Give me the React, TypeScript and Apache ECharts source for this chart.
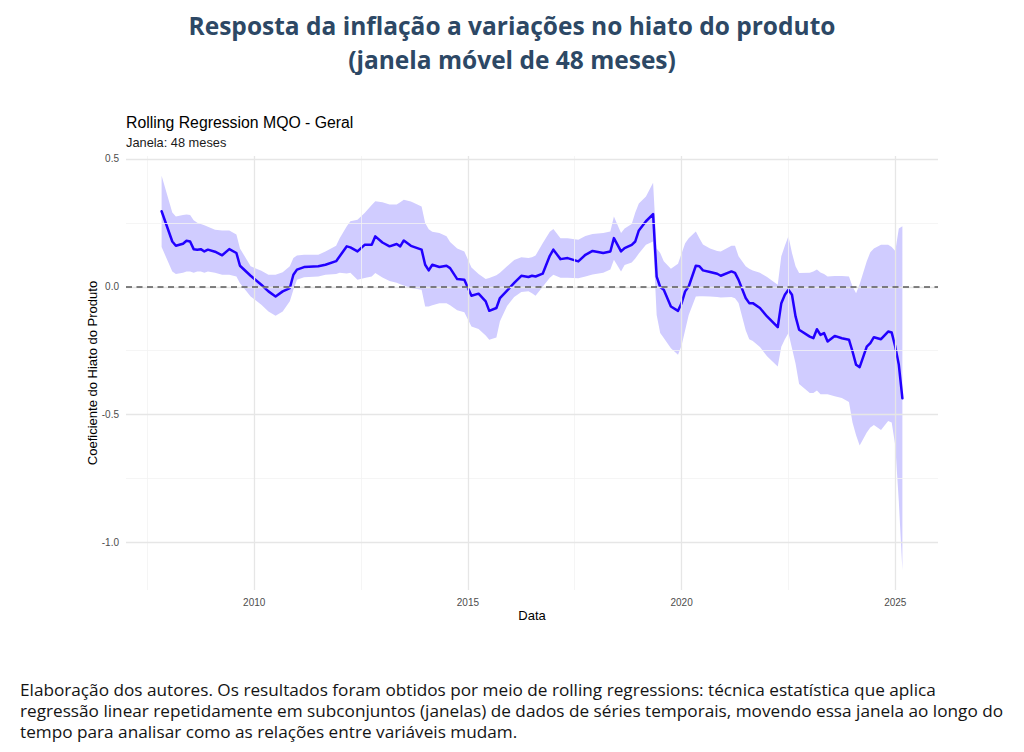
import React, { useEffect, useRef } from "react";
import * as echarts from "echarts";

// ---- Data ----
const dates = [
  "2007-11", "2008-02", "2008-03", "2008-05", "2008-06", "2008-07", "2008-08", "2008-09", "2008-10", "2008-11", "2008-12",
  "2009-02", "2009-04", "2009-06", "2009-08", "2009-09", "2009-12",
  "2010-03", "2010-05", "2010-07", "2010-09", "2010-11", "2010-12",
  "2011-01", "2011-03", "2011-07", "2011-09", "2011-12",
  "2012-01", "2012-03", "2012-04", "2012-06", "2012-08", "2012-10", "2012-11",
  "2013-01", "2013-03", "2013-05", "2013-06", "2013-07", "2013-09", "2013-12",
  "2014-01", "2014-02", "2014-03", "2014-05", "2014-07", "2014-08", "2014-10", "2014-12",
  "2015-02", "2015-04", "2015-06", "2015-07", "2015-09", "2015-10", "2015-12",
  "2016-02", "2016-04", "2016-06", "2016-07", "2016-08", "2016-10", "2016-12",
  "2017-01", "2017-03", "2017-05", "2017-08", "2017-10", "2017-12",
  "2018-03", "2018-05", "2018-06", "2018-08", "2018-09", "2018-11", "2018-12",
  "2019-01", "2019-03", "2019-05", "2019-06", "2019-07", "2019-08", "2019-10", "2019-12",
  "2020-01", "2020-02", "2020-03", "2020-05", "2020-06", "2020-07", "2020-09", "2020-11", "2020-12",
  "2021-03", "2021-04", "2021-05", "2021-07", "2021-08", "2021-09", "2021-11",
  "2022-01", "2022-04", "2022-05", "2022-06", "2022-07", "2022-08", "2022-09", "2022-10",
  "2023-01", "2023-02", "2023-03", "2023-04", "2023-05", "2023-06", "2023-08", "2023-10", "2023-12",
  "2024-01", "2024-02", "2024-03", "2024-05", "2024-06", "2024-07", "2024-09", "2024-11", "2024-12",
  "2025-01", "2025-02", "2025-03",
];

const coef = [
  0.295, 0.177, 0.16, 0.168, 0.18, 0.177, 0.147, 0.145, 0.147, 0.138, 0.145,
  0.137, 0.123, 0.147, 0.132, 0.082, 0.043,
  0.008, -0.018, -0.038, -0.018, -0.005, 0.047,
  0.067, 0.077, 0.08, 0.086, 0.1,
  0.119, 0.158, 0.154, 0.138, 0.164, 0.164, 0.197,
  0.173, 0.158, 0.167, 0.158, 0.181, 0.16, 0.145,
  0.086, 0.064, 0.086, 0.077, 0.082, 0.073, 0.03, 0.027,
  -0.035, -0.027, -0.057, -0.094, -0.083, -0.044, -0.015,
  0.015, 0.043, 0.038, 0.043, 0.04, 0.051, 0.121,
  0.145, 0.108, 0.112, 0.099, 0.125, 0.14,
  0.132, 0.138, 0.19, 0.138, 0.151, 0.164, 0.177,
  0.22, 0.256, 0.284, 0.04, -0.001, -0.012, -0.077, -0.094,
  -0.064, -0.018, 0.001, 0.082, 0.08, 0.064, 0.058, 0.051, 0.043,
  0.06, 0.054, 0.027, -0.044, -0.064, -0.064, -0.083,
  -0.116, -0.158, -0.064, -0.031, -0.012, -0.031, -0.116, -0.168,
  -0.195, -0.201, -0.166, -0.188, -0.181, -0.214, -0.192, -0.201, -0.207,
  -0.253, -0.305, -0.314, -0.234, -0.22, -0.197, -0.205, -0.175, -0.179,
  -0.234, -0.305, -0.436,
];

const lower = [
  0.155, 0.06, 0.05, 0.055, 0.06, 0.06, 0.055, 0.06, 0.06, 0.055, 0.06,
  0.055, 0.047, 0.047, 0.04, 0.014, -0.038,
  -0.07, -0.097, -0.113, -0.097, -0.057, -0.012,
  0.027, 0.037, 0.04, 0.047, 0.05,
  0.055, 0.052, 0.055, 0.027, 0.034, 0.04, 0.054,
  0.036, 0.023, 0.016, 0.01, 0.005, -0.005, -0.012,
  -0.077, -0.077, -0.072, -0.064, -0.064, -0.072, -0.092, -0.1,
  -0.155, -0.165, -0.19, -0.207, -0.198, -0.135, -0.075,
  -0.04, -0.02, -0.018, -0.025, -0.035, 0.0, 0.035,
  0.047, 0.035, 0.035, 0.033, 0.04, 0.048,
  0.055, 0.067, 0.106, 0.06, 0.085, 0.095, 0.11,
  0.13, 0.164, 0.177, -0.11, -0.181, -0.2, -0.24, -0.266,
  -0.23, -0.17, -0.11, -0.038, -0.037, -0.037, -0.038, -0.04, -0.042,
  -0.04, -0.045, -0.063, -0.17, -0.205, -0.212, -0.235,
  -0.272, -0.312, -0.234, -0.205, -0.181, -0.24, -0.3, -0.38,
  -0.415, -0.415, -0.405, -0.42, -0.42, -0.42, -0.428, -0.435, -0.45,
  -0.53, -0.58, -0.62, -0.57, -0.55, -0.54, -0.56, -0.525, -0.53,
  -0.62, -0.84, -1.108,
];

const upper = [
  0.434, 0.29, 0.275, 0.28, 0.282, 0.28, 0.26, 0.25, 0.245, 0.24, 0.235,
  0.223, 0.22, 0.22, 0.204, 0.15, 0.08,
  0.063, 0.047, 0.047, 0.057, 0.08, 0.112,
  0.122, 0.125, 0.125, 0.138, 0.16,
  0.19, 0.236, 0.256, 0.262, 0.288, 0.32, 0.334,
  0.33, 0.321, 0.321, 0.33, 0.34, 0.333, 0.314,
  0.249, 0.225, 0.215, 0.21, 0.197, 0.175, 0.15, 0.138,
  0.075, 0.05, 0.03, 0.034, 0.045, 0.055, 0.08,
  0.105, 0.115, 0.112, 0.115, 0.122, 0.17, 0.215,
  0.226, 0.19, 0.19, 0.184, 0.198, 0.206,
  0.21, 0.216, 0.275, 0.21, 0.228, 0.245, 0.29,
  0.325, 0.353, 0.406, 0.15, 0.132, 0.1, 0.07, 0.09,
  0.13, 0.17, 0.19, 0.216, 0.19, 0.165, 0.15, 0.14, 0.138,
  0.16, 0.16, 0.119, 0.08, 0.07, 0.064, 0.055,
  0.038, 0.008, 0.119, 0.16, 0.197, 0.132, 0.08, 0.054,
  0.055, 0.06, 0.067, 0.056, 0.05, 0.04, 0.042, 0.042, 0.04,
  0.001, -0.025, 0.01, 0.1, 0.135, 0.15, 0.164, 0.164, 0.155,
  0.14, 0.228, 0.236,
];

const xMajorTicks = [2010, 2015, 2020, 2025];
const xMinorTicks = [2007.5, 2012.5, 2017.5, 2022.5];
const yMajorTicks = [-1.0, -0.5, 0.0, 0.5];
const yMinorTicks = [-0.75, -0.25, 0.25];

const pageTitle1 = "Resposta da inflação a variações no hiato do produto";
const pageTitle2 = "(janela móvel de 48 meses)";
const chartTitle = "Rolling Regression MQO - Geral";
const chartSubtitle = "Janela: 48 meses";
const xName = "Data";
const yName = "Coeficiente do Hiato do Produto";
const footerLines = [
  "Elaboração dos autores. Os resultados foram obtidos por meio de rolling regressions: técnica estatística que aplica",
  "regressão linear repetidamente em subconjuntos (janelas) de dados de séries temporais, movendo essa janela ao longo do",
  "tempo para analisar como as relações entre variáveis mudam.",
];

function toYear(d: string): number {
  const [y, m] = d.split("-").map(Number);
  return y + (m - 1) / 12;
}

const SANS = "'Liberation Sans', Arial, sans-serif";

function text(x: number, y: number, str: string, opts: any = {}) {
  const align = opts.align || "left";
  return {
    type: "text",
    x,
    y,
    rotation: opts.rotation || 0,
    silent: true,
    style: {
      text: str,
      fill: opts.color || "#000000",
      fontSize: opts.fontSize || 12,
      fontFamily: opts.fontFamily || SANS,
      fontWeight: opts.fontWeight || "normal",
      align,
      textAlign: align,
      verticalAlign: "middle",
      textVerticalAlign: "middle",
    },
  };
}

export default function App() {
  const ref = useRef<HTMLDivElement>(null);

  useEffect(() => {
    if (!ref.current) return;
    const chart = echarts.init(ref.current, undefined, { renderer: "svg" });
    const xs = dates.map(toYear);
    const coefData = xs.map((x, i) => [x, coef[i]]);
    const bandData = xs.map((x, i) => [x, lower[i], upper[i]]);

    const gridLines = [
      ...xMinorTicks.map((v) => ({ xAxis: v, lineStyle: { color: "#f2f2f2", width: 0.8, type: "solid" } })),
      ...yMinorTicks.map((v) => ({ yAxis: v, lineStyle: { color: "#f2f2f2", width: 0.8, type: "solid" } })),
      ...xMajorTicks.map((v) => ({ xAxis: v, lineStyle: { color: "#e6e6e6", width: 1.3, type: "solid" } })),
      ...yMajorTicks.map((v) => ({ yAxis: v, lineStyle: { color: "#e6e6e6", width: 1.3, type: "solid" } })),
    ];

    const option: any = {
      animation: false,
      backgroundColor: "#ffffff",
      grid: { left: 126, top: 156, width: 812, height: 434, containLabel: false },
      xAxis: {
        type: "value",
        min: 2007,
        max: 2026,
        axisLine: { show: false },
        axisTick: { show: false },
        splitLine: { show: false },
        axisLabel: {
          customValues: xMajorTicks,
          formatter: (v: number) => String(v),
          color: "#4d4d4d",
          fontSize: 10,
          fontFamily: SANS,
          margin: 7,
        },
      },
      yAxis: {
        type: "value",
        min: -1.185,
        max: 0.511,
        axisLine: { show: false },
        axisTick: { show: false },
        splitLine: { show: false },
        axisLabel: {
          customValues: yMajorTicks,
          formatter: (v: number) => v.toFixed(1),
          color: "#4d4d4d",
          fontSize: 10,
          fontFamily: SANS,
          margin: 7,
        },
      },
      series: [
        {
          type: "line",
          name: "grid",
          data: [],
          z: 1,
          silent: true,
          markLine: {
            silent: true,
            symbol: ["none", "none"],
            label: { show: false },
            animation: false,
            data: gridLines,
          },
        },
        {
          type: "custom",
          name: "IC",
          z: 2,
          silent: true,
          data: bandData,
          encode: { x: 0, y: [1, 2] },
          renderItem: (params: any, api: any) => {
            if (params.dataIndex !== 0) return null;
            const pts: number[][] = [];
            for (let i = 0; i < xs.length; i++) pts.push(api.coord([xs[i], upper[i]]));
            for (let i = xs.length - 1; i >= 0; i--) pts.push(api.coord([xs[i], lower[i]]));
            return {
              type: "polygon",
              shape: { points: pts },
              style: { fill: "#d0ccff", stroke: "none" },
            };
          },
        },
        {
          type: "line",
          name: "zero",
          data: [],
          z: 3,
          silent: true,
          markLine: {
            silent: true,
            symbol: ["none", "none"],
            label: { show: false },
            animation: false,
            data: [{ yAxis: 0 }],
            lineStyle: { color: "#595959", width: 1.5, type: [6, 4.5] },
          },
        },
        {
          type: "line",
          name: "Coeficiente",
          data: coefData,
          z: 4,
          symbol: "none",
          smooth: false,
          lineStyle: { color: "#2200ff", width: 2.5, join: "round", cap: "round" },
        },
      ],
      graphic: {
        elements: [
          text(512, 25, pageTitle1, { align: "center", fontSize: 24.5, fontWeight: "bold", fontFamily: "'Open Sans', sans-serif", color: "#2d4865" }),
          text(512, 59, pageTitle2, { align: "center", fontSize: 24.5, fontWeight: "bold", fontFamily: "'Open Sans', sans-serif", color: "#2d4865" }),
          text(126, 122, chartTitle, { fontSize: 15.8 }),
          text(126, 142.5, chartSubtitle, { fontSize: 12.8, color: "#1a1a1a" }),
          text(532, 615, xName, { align: "center", fontSize: 13 }),
          text(92, 373, yName, { align: "center", fontSize: 13, rotation: Math.PI / 2 }),
          ...footerLines.map((l, i) =>
            text(20, 689 + i * 21, l, { fontSize: 17.2, fontFamily: "'Open Sans', sans-serif", color: "#141414" })
          ),
        ],
      },
    };

    chart.setOption(option);
    return () => chart.dispose();
  }, []);

  return (
    <div
      ref={ref}
      style={{ position: "absolute", left: 0, top: 0, width: 1024, height: 752, background: "#ffffff" }}
    />
  );
}
